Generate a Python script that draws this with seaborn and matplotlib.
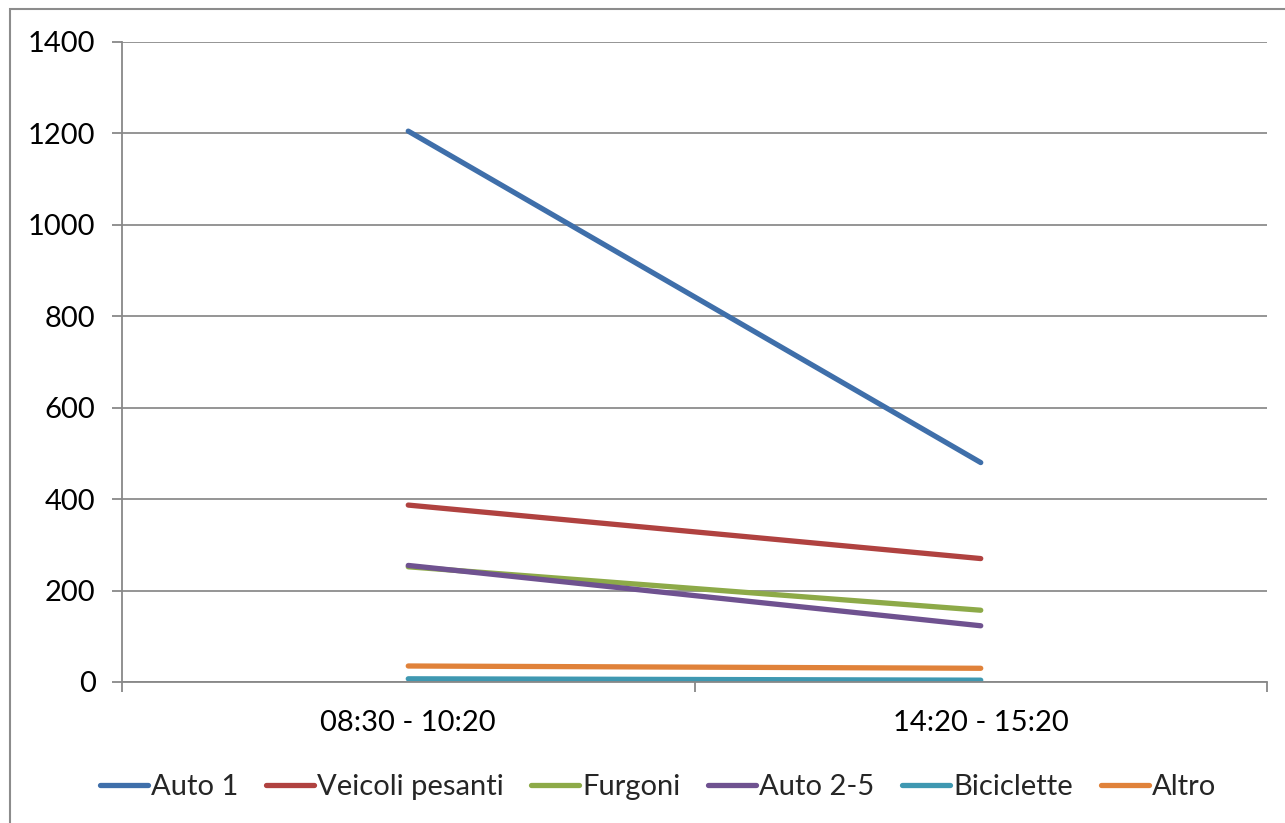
import matplotlib
matplotlib.use("Agg")
import matplotlib.pyplot as plt
from matplotlib.patches import Rectangle
import seaborn as sns
import pandas as pd

# Traffic counts per vehicle class in two time windows
periods = ["08:30 - 10:20", "14:20 - 15:20"]
auto_1 = [1205, 480]
veicoli_pesanti = [387, 270]
furgoni = [252, 157]
auto_2_5 = [255, 123]
biciclette = [7, 4]
altro = [35, 30]

series_names = ["Auto 1", "Veicoli pesanti", "Furgoni", "Auto 2-5", "Biciclette", "Altro"]
series_values = [auto_1, veicoli_pesanti, furgoni, auto_2_5, biciclette, altro]
colors = ["#3F6FAA", "#B04240", "#8DAA48", "#6F5290", "#3F98B1", "#E0823A"]

rows = []
for name, vals in zip(series_names, series_values):
    for i, (p, v) in enumerate(zip(periods, vals)):
        rows.append({"pos": i + 0.5, "periodo": p, "serie": name, "valore": v})
df = pd.DataFrame(rows)

sns.set_theme(style="white")
plt.rcParams["font.family"] = ["Lato", "DejaVu Sans"]

fig = plt.figure(figsize=(12.85, 8.23), dpi=100)
ax = fig.add_axes([122 / 1285, 1 - 682 / 823, (1267 - 122) / 1285, (682 - 42) / 823])

sns.lineplot(data=df, x="pos", y="valore", hue="serie", hue_order=series_names,
             palette=colors, linewidth=3.8, ax=ax, legend=True)
for ln in ax.get_lines():
    ln.set_solid_capstyle("round")

ax.set_xlim(0, 2)
ax.set_ylim(0, 1400)
ax.set_yticks(range(0, 1401, 200))
ax.set_xticks([0, 1, 2])
ax.set_xticklabels([])
ax.set_xticks([0.5, 1.5], minor=True)
ax.set_xticklabels(periods, minor=True)
ax.tick_params(axis="x", which="major", length=7, width=1.3, color="#888888", direction="out", bottom=True)
ax.tick_params(axis="x", which="minor", length=0, pad=20, labelsize=21, labelcolor="black")
ax.tick_params(axis="y", length=7, width=1.3, color="#888888", direction="out", left=True,
               pad=12, labelsize=21, labelcolor="black")
ax.grid(axis="y", color="#8c8c8c", linewidth=1.3)
ax.grid(axis="x", visible=False)
ax.set_axisbelow(True)
ax.set_xlabel("")
ax.set_ylabel("")
for side in ["top", "right"]:
    ax.spines[side].set_visible(False)
for side in ["left", "bottom"]:
    ax.spines[side].set_color("#888888")
    ax.spines[side].set_linewidth(1.3)

handles, labels = ax.get_legend_handles_labels()
ax.legend_.remove()
leg = fig.legend(handles, labels, loc="center", bbox_to_anchor=(0.512, 1 - 787 / 823),
                 ncol=6, frameon=False, fontsize=21, handlelength=1.65,
                 handletextpad=0.1, columnspacing=0.95)
for h in leg.legend_handles:
    h.set_linewidth(3.8)
    h.set_solid_capstyle("round")

# Outer chart frame
fig.patches.append(Rectangle((10 / 1285, -0.01), 1.2, 1 - 9 / 823 + 0.01,
                             transform=fig.transFigure, fill=False,
                             edgecolor="#8c8c8c", linewidth=1.5))

fig.savefig("out.png", dpi=100)
